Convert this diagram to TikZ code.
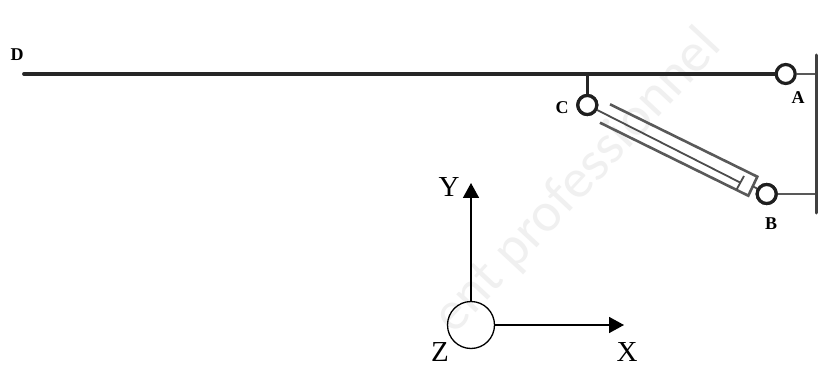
\documentclass[tikz,border=0pt]{standalone}
\usepackage{fontspec}
\setmainfont{Liberation Serif}
\newfontfamily\markfont{Lato}
\usetikzlibrary{arrows.meta}
\tikzset{
  x=1pt,y=-1pt,
  joint/.style={circle,draw=black!88,line width=3.2pt,fill=white,inner sep=0pt,minimum size=19pt},
  axisorigin/.style={circle,draw=black,line width=1.3pt,inner sep=0pt,minimum size=47pt},
  beam/.style={line width=3.8pt,draw=black!85},
  stem/.style={line width=3.2pt,draw=black!85},
  link/.style={line width=2.6pt,draw=black!65},
  tube/.style={line width=2.6pt,draw=black!65},
  rodline/.style={line width=1.8pt,draw=black!70},
  axisline/.style={line width=1.6pt,-{Triangle[length=15pt,width=16pt]}},
  partlabel/.style={font=\bfseries\fontsize{18}{18}\selectfont,inner sep=0pt},
  axislabel/.style={font=\fontsize{29}{29}\selectfont,inner sep=0pt},
  marktext/.style={font=\markfont\fontsize{52}{52}\selectfont,text=black!6,inner sep=0pt}
}
\begin{document}
\begin{tikzpicture}
\useasboundingbox (0,0) rectangle (824,366);
\fill[white] (0,0) rectangle (824,366);
\begin{scope}
\clip (0,0) rectangle (824,366);
\node[marktext,rotate=47] (wm) at (578,182) {ent professionnel};
\end{scope}
% coordinates
\coordinate (dEnd) at (24,74);
\coordinate (stemTop) at (587.3,74);
\coordinate (wallTop) at (816.7,55);
\coordinate (wallBot) at (816.7,213);
\coordinate (wallA) at (816.7,74);
\coordinate (wallB) at (816.7,194);
\coordinate (capTop) at (757.3,176.7);
\coordinate (capBot) at (748.3,195.7);
\coordinate (capMid) at (752.8,186.2);
\coordinate (tubeTop) at (610,104.3);
\coordinate (tubeBot) at (600,122.7);
\coordinate (pistonTop) at (744,176);
\coordinate (pistonBot) at (736.7,189.3);
\coordinate (pistonMid) at (740.3,182.6);
% joints
\node[joint] (A) at (785.7,74) {};
\node[joint] (B) at (766.7,194) {};
\node[joint] (C) at (587.3,105) {};
% beams
\draw[beam,line cap=round] (dEnd) -- (A.west);
\draw[stem] (stemTop) -- (C.north);
\draw[link] (A.east) -- (wallA);
\draw[link] (B.east) -- (wallB);
\draw[line width=3pt,draw=black!75,line cap=round] (wallTop) -- (wallBot);
% cylinder
\draw[rodline] (C) -- (pistonMid);
\draw[tube,line join=miter] (tubeTop) -- (capTop) -- (capBot) -- (tubeBot);
\draw[rodline] (pistonTop) -- (pistonBot);
\draw[rodline] (capMid) -- (B);
\node[joint] at (C) {};
\node[joint] at (B) {};
% axes
\node[axisorigin] (O) at (471,325) {};
\coordinate (yTip) at (471,183);
\coordinate (xTip) at (624,325);
\draw[axisline] (O.north) -- (yTip);
\draw[axisline] (O.east) -- (xTip);
% labels
\node[partlabel] (lD) at (17,55) {D};
\node[partlabel] (lA) at (798,98) {A};
\node[partlabel] (lB) at (771,224) {B};
\node[partlabel] (lC) at (562,108) {C};
\node[axislabel] (lY) at (449,187) {Y};
\node[axislabel] (lZ) at (440,352) {Z};
\node[axislabel] (lX) at (627,352) {X};
\end{tikzpicture}
\end{document}
